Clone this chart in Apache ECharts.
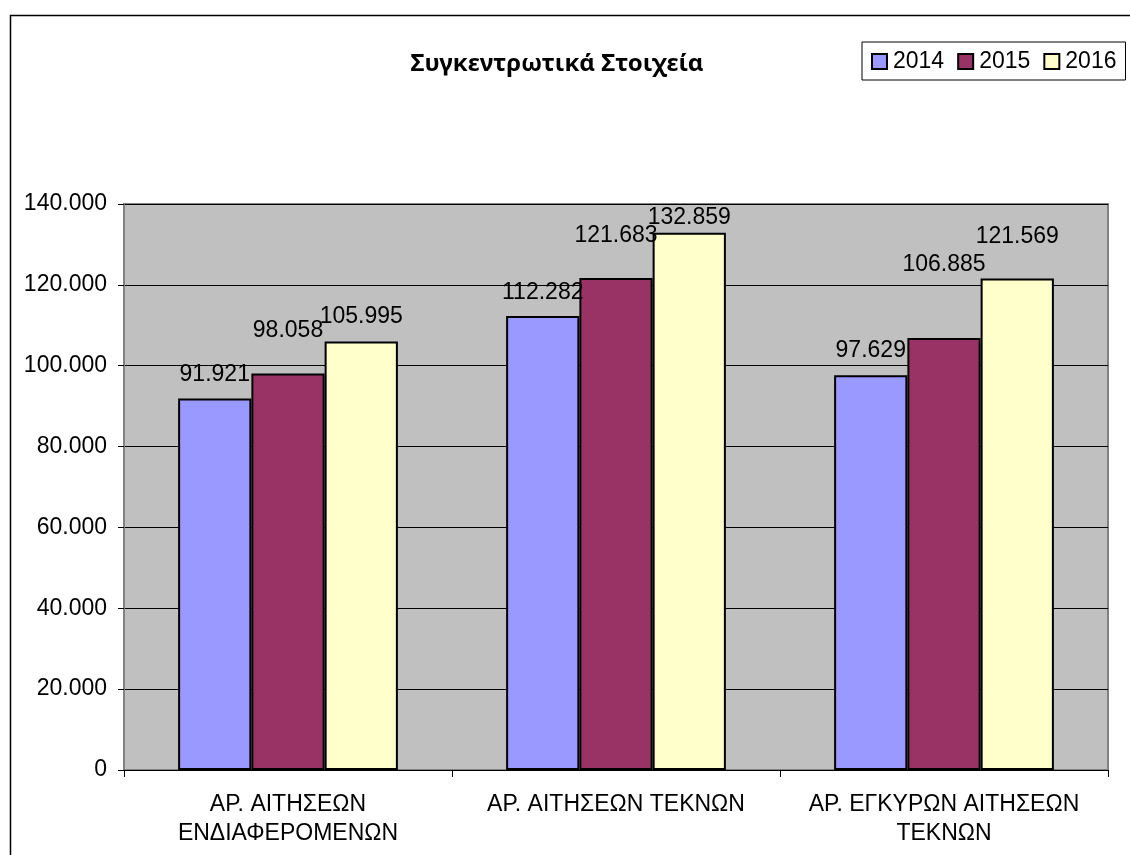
<!DOCTYPE html>
<html>
<head>
<meta charset="utf-8">
<script src="https://cdn.jsdelivr.net/npm/echarts@6/dist/echarts.min.js"></script>
<style>
  html, body { margin: 0; padding: 0; background: #fff; }
  #chart { width: 1130px; height: 855px; }
</style>
</head>
<body>
<div id="chart"></div>
<script>
const titleText = 'Συγκεντρωτικά Στοιχεία';
const categories = ['ΑΡ. ΑΙΤΗΣΕΩΝ\nΕΝΔΙΑΦΕΡΟΜΕΝΩΝ', 'ΑΡ. ΑΙΤΗΣΕΩΝ ΤΕΚΝΩΝ', 'ΑΡ. ΕΓΚΥΡΩΝ ΑΙΤΗΣΕΩΝ\nΤΕΚΝΩΝ'];
const seriesNames = ['2014', '2015', '2016'];
const values2014 = [91921, 112282, 97629];
const values2015 = [98058, 121683, 106885];
const values2016 = [105995, 132859, 121569];
const yTicks = { min: 0, max: 140000, interval: 20000 };

// label lift above each bar (styling only), per series, per category
const labelDistance = [[12, 12, 13], [31, 31, 62], [13, 4, 30]];
const colors = ['#9999FF', '#993366', '#FFFFCC'];
const FONT = '"Liberation Sans", Arial, sans-serif';
const FS = 23;

function fmt(v) {
  if (v === 0) return '0';
  return String(v).replace(/\B(?=(\d{3})+(?!\d))/g, '.');
}

const allValues = [values2014, values2015, values2016];
const series = allValues.map((vals, si) => ({
  name: seriesNames[si],
  type: 'bar',
  barGap: '0%',
  barCategoryGap: '33%',
  itemStyle: { color: colors[si], borderColor: '#000', borderWidth: 2 },
  label: {
    show: true, position: 'top', color: '#000', fontSize: FS, fontFamily: FONT,
    formatter: p => fmt(p.value)
  },
  data: vals.map((v, ci) => ({ value: v, label: { distance: labelDistance[si][ci] } }))
}));

const chart = echarts.init(document.getElementById('chart'));
chart.setOption({
  animation: false,
  backgroundColor: '#fff',
  textStyle: { fontFamily: FONT },
  title: {
    text: titleText, left: 552, top: 47, textAlign: 'center',
    textStyle: { fontSize: 24, fontWeight: 'bold', color: '#000', fontFamily: '"Noto Sans", "DejaVu Sans", sans-serif' }
  },
  legend: {
    left: 862, top: 42, orient: 'horizontal',
    borderColor: '#000', borderWidth: 1, padding: [8, 9, 7, 9],
    itemWidth: 15, itemHeight: 15, itemGap: 13, icon: 'rect',
    textStyle: { fontSize: FS, color: '#000', fontFamily: FONT, padding: [0, 0, 0, 1] },
    data: seriesNames
  },
  graphic: [{
    type: 'rect', left: 8, top: 13, silent: true, z: -10,
    shape: { width: 1200, height: 900 },
    style: { fill: 'none', stroke: '#000', lineWidth: 1.5 }
  }],
  grid: {
    left: 124, right: 22, top: 204, bottom: 85, show: true,
    backgroundColor: '#C0C0C0', borderColor: '#808080', borderWidth: 2, containLabel: false
  },
  xAxis: {
    type: 'category', data: categories,
    axisLine: { show: true, lineStyle: { color: '#000', width: 1 } },
    axisTick: { show: true, alignWithLabel: false, length: 7, lineStyle: { color: '#000' } },
    axisLabel: { fontSize: FS, color: '#000', lineHeight: 29, margin: 20, fontFamily: FONT, interval: 0 }
  },
  yAxis: {
    type: 'value', min: yTicks.min, max: yTicks.max, interval: yTicks.interval,
    axisLine: { show: true, lineStyle: { color: '#808080', width: 1 } },
    axisTick: { show: true, length: 6, lineStyle: { color: '#000' } },
    axisLabel: { fontSize: FS, color: '#000', margin: 17, fontFamily: FONT, formatter: fmt },
    splitLine: { show: true, lineStyle: { color: '#000', width: 1 } }
  },
  series: series
});
</script>
</body>
</html>
